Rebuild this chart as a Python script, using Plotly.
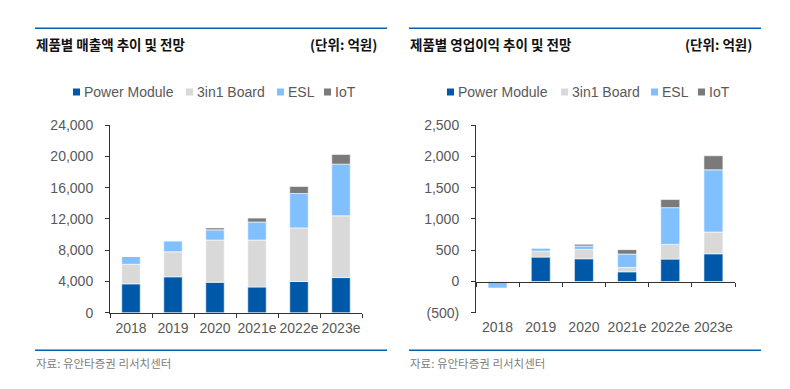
import plotly.graph_objects as go

# ---------------- data ----------------
years = ["2018", "2019", "2020", "2021e", "2022e", "2023e"]
series_names = ["Power Module", "3in1 Board", "ESL", "IoT"]

sales_pm = [3700, 4600, 3900, 3300, 4000, 4500]
sales_board = [2500, 3200, 5400, 6000, 6850, 7900]
sales_esl = [1000, 1400, 1300, 2300, 4400, 6600]
sales_iot = [0, 0, 250, 500, 900, 1240]

op_pm = [10, 390, 363, 155, 358, 443]
op_board = [0, 95, 150, 70, 235, 347]
op_esl = [-105, 50, 55, 214, 587, 994]
op_iot = [0, 0, 27, 70, 129, 225]

sales_ticks = [0, 4000, 8000, 12000, 16000, 20000, 24000]
op_ticks = [-500, 0, 500, 1000, 1500, 2000, 2500]
op_tick_text = ["(500)", "0", "500", "1,000", "1,500", "2,000", "2,500"]

title_left = "제품별 매출액 추이 및 전망"
title_right = "제품별 영업이익 추이 및 전망"
unit_text = "(단위: 억원)"
source_text = "자료: 유안타증권 리서치센터"

# ---------------- style ----------------
W, H = 790, 389
OFF = 8  # page body margin
colors = ["#0059A8", "#D9D9D9", "#80C0FF", "#7A7A7A"]
TXT = "#595959"
AX = "#333333"
BLUE_LINE = "#0062B1"
LAT = "Liberation Sans, Arial, sans-serif"
KR = "Noto Sans CJK KR, sans-serif"


def px(x):
    return (x - OFF) / W


def py(y):
    return 1 - (y - OFF) / H


fig = go.Figure()

for vals, name, col in zip([sales_pm, sales_board, sales_esl, sales_iot], series_names, colors):
    fig.add_trace(go.Bar(x=years, y=vals, name=name, marker_color=col,
                         marker_line=dict(color="white", width=0.6),
                         showlegend=False, xaxis="x", yaxis="y"))
for vals, name, col in zip([op_pm, op_board, op_esl, op_iot], series_names, colors):
    fig.add_trace(go.Bar(x=years, y=vals, name=name, marker_color=col,
                         marker_line=dict(color="white", width=0.6),
                         showlegend=False, xaxis="x2", yaxis="y2"))

ydom = [py(312.8), py(125)]
op_min, op_max = op_ticks[0], op_ticks[-1]
zero_pos = ydom[0] + (ydom[1] - ydom[0]) * (0 - op_min) / (op_max - op_min)

tickfont = dict(family=LAT, size=14, color=TXT)

fig.update_layout(
    width=W, height=H, autosize=False,
    margin=dict(l=0, r=0, t=0, b=0, pad=0),
    paper_bgcolor="white", plot_bgcolor="white",
    barmode="relative", bargap=0.56,
    xaxis=dict(domain=[px(110), px(362)], anchor="y", type="category",
               showline=True, linecolor=AX, linewidth=1, automargin=False, tickangle=0,
               ticks="outside", tickson="boundaries", ticklen=4, tickcolor=AX,
               tickfont=tickfont, showgrid=False, ticklabelstandoff=2),
    yaxis=dict(domain=ydom, anchor="x", range=[sales_ticks[0], sales_ticks[-1]],
               tickvals=sales_ticks, tickformat=",", showline=True, linecolor=AX,
               ticks="outside", ticklen=4, tickcolor=AX, tickfont=tickfont, automargin=False,
               showgrid=False, zeroline=False, ticklabelstandoff=9),
    xaxis2=dict(domain=[px(476), px(735)], anchor="free", position=zero_pos,
                type="category", showline=True, linecolor=AX, linewidth=1,
                automargin=False, tickangle=0,
                ticks="outside", tickson="boundaries", ticklen=4, tickcolor=AX,
                tickfont=tickfont, showgrid=False, ticklabelstandoff=33),
    yaxis2=dict(domain=ydom, anchor="x2", range=[op_min, op_max],
                tickvals=op_ticks, ticktext=op_tick_text, showline=True, automargin=False,
                linecolor=AX, ticks="outside", ticklen=4, tickcolor=AX,
                tickfont=tickfont, showgrid=False, zeroline=False,
                ticklabelstandoff=9),
)

shapes = []
annotations = []
# header / footer lines and titles
for (x0, x1, title, unit_x) in [(35, 387, title_left, 378), (409, 761, title_right, 753)]:
    shapes.append(dict(type="line", xref="paper", yref="paper", x0=px(x0), x1=px(x1),
                       y0=py(28.3), y1=py(28.3), line=dict(color=BLUE_LINE, width=1.6)))
    shapes.append(dict(type="line", xref="paper", yref="paper", x0=px(x0), x1=px(x1),
                       y0=py(350.3), y1=py(350.3), line=dict(color=BLUE_LINE, width=1.6)))
    annotations.append(dict(text=title, xref="paper", yref="paper", x=px(x0 - 1), y=py(44.5),
                            xanchor="left", yanchor="middle", showarrow=False,
                            font=dict(family=KR, size=13.5, color="#111111", weight="bold")))
    annotations.append(dict(text=unit_text, xref="paper", yref="paper", x=px(unit_x + 1), y=py(44.5),
                            xanchor="right", yanchor="middle", showarrow=False,
                            font=dict(family=KR, size=13.5, color="#111111", weight="bold")))
    annotations.append(dict(text=source_text, xref="paper", yref="paper", x=px(x0 - 1), y=py(363),
                            xanchor="left", yanchor="middle", showarrow=False,
                            font=dict(family=KR, size=11.5, color="#808080")))

# custom legends
legend_left_x = [73, 186, 277, 324]
legend_right_x = [447, 561, 651, 698]
for xs in (legend_left_x, legend_right_x):
    for x0, name, col in zip(xs, series_names, colors):
        shapes.append(dict(type="rect", xref="paper", yref="paper",
                           x0=px(x0), x1=px(x0 + 7), y0=py(95.5), y1=py(88.5),
                           fillcolor=col, line=dict(width=0)))
        annotations.append(dict(text=name, xref="paper", yref="paper", x=px(x0 + 8.5),
                                y=py(92), xanchor="left", yanchor="middle", showarrow=False,
                                font=dict(family=LAT, size=14, color=TXT)))

fig.update_layout(shapes=shapes, annotations=annotations)
fig.write_html("out.html")
